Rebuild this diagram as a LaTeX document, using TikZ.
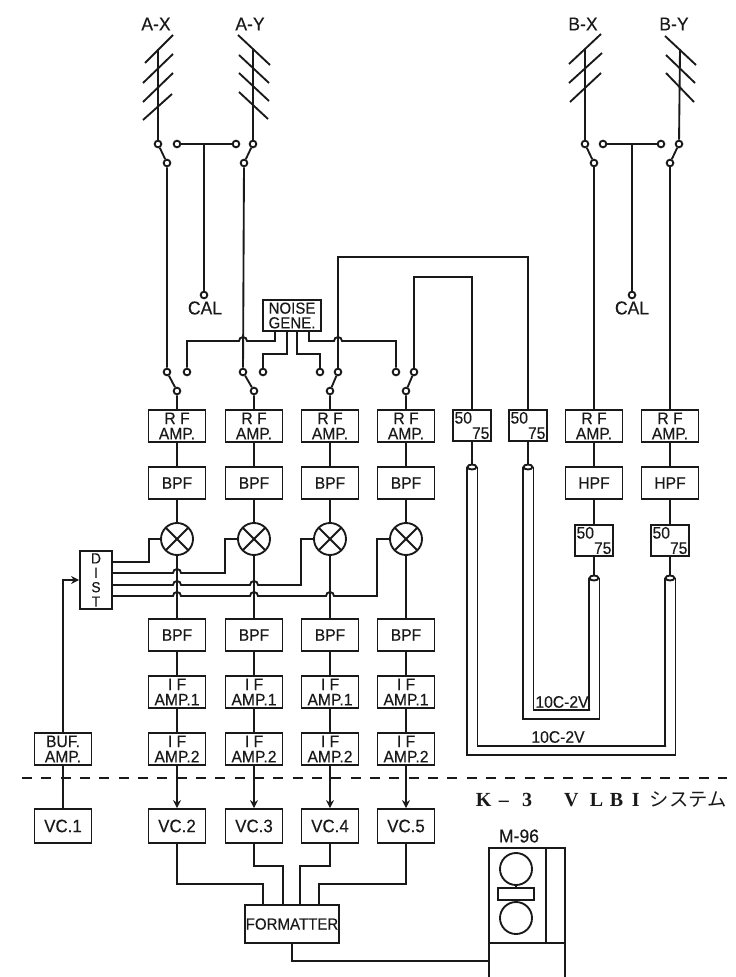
\documentclass[tikz,border=0pt]{standalone}
\usepackage{fontspec}
\setmainfont[FakeStretch=0.94,FakeBold=0.3]{Liberation Sans}
\newfontfamily\titlefont{Liberation Serif}
\newfontfamily\cjk{Noto Sans CJK JP}
\usetikzlibrary{shapes.geometric,arrows.meta}
\colorlet{ink}{black!90}
\tikzset{
  block/.style={draw=ink,rectangle,inner sep=0pt,minimum width=42.75pt,minimum height=24pt,align=center,text=ink,font=\fontsize{12.5}{11.5}\selectfont},
  tall/.style={block,minimum height=25.5pt,font=\fontsize{13.5}{13.5}\selectfont},
  match/.style={block,minimum width=28.5pt,minimum height=23pt,align=left},
  term/.style={draw=ink,fill=white,circle,inner sep=0pt,minimum size=5pt},
  mixer/.style={draw=ink,circle,inner sep=0pt,minimum size=24pt,path picture={
    \draw (path picture bounding box.north west) -- (path picture bounding box.south east);
    \draw (path picture bounding box.north east) -- (path picture bounding box.south west);}},
  coax/.style={draw=ink,fill=white,ellipse,inner sep=0pt,minimum width=6.75pt,minimum height=3.75pt},
  lab/.style={inner sep=0pt,text=ink,font=\fontsize{14}{14}\selectfont}
}
\begin{document}
\begin{tikzpicture}[x=0.75pt,y=-0.75pt,line width=1.4pt,draw=ink,>={Stealth[length=6pt,width=6pt]}]
\useasboundingbox (0,0) rectangle (735,977);
%antenna labels
\node[lab] (labax) at (156,24) {A-X};
\node[lab] (labay) at (250,24) {A-Y};
\node[lab] (labbx) at (583,24) {B-X};
\node[lab] (labby) at (674,24) {B-Y};
%antenna elements
\draw (145,63) -- (173,35);
\draw (143,83) -- (173,54);
\draw (143,102) -- (173,73);
\draw (143,120) -- (172,94);
\draw (238,35) -- (270,65);
\draw (239,55) -- (269,83);
\draw (239,73) -- (269,101);
\draw (239,92) -- (268,119);
\draw (569,64) -- (601,34);
\draw (569,83) -- (602,53);
\draw (570,102) -- (601,73);
\draw (665,36) -- (696,65);
\draw (666,55) -- (695,83);
\draw (666,73) -- (694,102);
\coordinate (topax) at (158,49);
\coordinate (topay) at (253,49);
\coordinate (topbx) at (585,49);
\coordinate (topby) at (680,49);
%upper switches
\node[term] (swax) at (158,144) {};
\node[term] (sway) at (253,144) {};
\node[term] (swbx) at (585,144) {};
\node[term] (swby) at (679,144) {};
\node[term] (outax) at (167,163) {};
\node[term] (outay) at (244,163) {};
\node[term] (outbx) at (594,163) {};
\node[term] (outby) at (670,163) {};
\node[term] (calal) at (177,144) {};
\node[term] (calar) at (236,144) {};
\node[term] (calbl) at (603,144) {};
\node[term] (calbr) at (661,144) {};
\coordinate (calam) at (204,144);
\coordinate (calbm) at (632,144);
\node[term] (calae) at (204,295) {};
\node[term] (calbe) at (632,295) {};
\node[lab] (labcala) at (205,308) {CAL};
\node[lab] (labcalb) at (632,308) {CAL};
\draw (topax) -- (swax);
\draw (topay) -- (sway);
\draw (topbx) -- (swbx);
\draw (topby) -- (swby);
\draw (swax) -- (outax);
\draw (sway) -- (outay);
\draw (swbx) -- (outbx);
\draw (swby) -- (outby);
\draw (calal) -- (calar);
\draw (calbl) -- (calbr);
\draw (calam) -- (calae);
\draw (calbm) -- (calbe);
%lower switches
\node[term] (inla) at (167,372) {};
\node[term] (inlb) at (243,372) {};
\node[term] (inlc) at (338,372) {};
\node[term] (inld) at (414,372) {};
\node[term] (nsa) at (187,372) {};
\node[term] (nsb) at (263,372) {};
\node[term] (nsc) at (320,372) {};
\node[term] (nsd) at (396,372) {};
\node[term] (rfia) at (177,391) {};
\node[term] (rfib) at (254,391) {};
\node[term] (rfic) at (330,391) {};
\node[term] (rfid) at (406,391) {};
%noise source
\node[block,minimum width=43.5pt,minimum height=23pt,font=\fontsize{12}{11}\selectfont] (noise) at (292,315.5) {NOISE\\GENE.};
\coordinate (na) at (275,331);
\coordinate (nb) at (287,331);
\coordinate (nc) at (297,331);
\coordinate (nd) at (309,331);
\draw (na) -- (275,341) -- (247,341) arc [start angle=0, end angle=-180, radius=4] -- (187,341) -- (nsa);
\draw (nb) |- (263,354) -- (nsb);
\draw (nc) |- (320,354) -- (nsc);
\draw (nd) -- (309,341) -- (334,341) arc [start angle=180, end angle=360, radius=4] -- (396,341) -- (nsd);
%rf row
\node[block] (rfa) at (177,426) {R F\\AMP.};
\node[block] (rfb) at (254,426) {R F\\AMP.};
\node[block] (rfc) at (330,426) {R F\\AMP.};
\node[block] (rfd) at (406,426) {R F\\AMP.};
\node[block] (rfe) at (594,426) {R F\\AMP.};
\node[block] (rff) at (670,426) {R F\\AMP.};
\node[match] (ma) at (472,425.5) {50\\\hphantom{50}75};
\node[match] (mb) at (528,425.5) {50\\\hphantom{50}75};
\draw (outax) -- (inla) -- (rfia) -- (rfa);
\draw (outay) -- (inlb) -- (rfib) -- (rfb);
\draw (inlc) -- (rfic) -- (rfc);
\draw (inld) -- (rfid) -- (rfd);
\draw (outbx) -- (rfe);
\draw (outby) -- (rff);
\coordinate (coaxc) at (338,257);
\coordinate (coaxd) at (414,277);
\draw (inlc) -- (coaxc) -| (mb);
\draw (inld) -- (coaxd) -| (ma);
%filters
\node[block] (bpfa) at (177,483) {BPF};
\node[block] (bpfb) at (254,483) {BPF};
\node[block] (bpfc) at (330,483) {BPF};
\node[block] (bpfd) at (406,483) {BPF};
\node[block] (hpfe) at (594,483) {HPF};
\node[block] (hpff) at (670,483) {HPF};
\node[match] (mc) at (594,540.5) {50\\\hphantom{50}75};
\node[match] (md) at (670,540.5) {50\\\hphantom{50}75};
\draw (rfa) -- (bpfa);
\draw (rfb) -- (bpfb);
\draw (rfc) -- (bpfc);
\draw (rfd) -- (bpfd);
\draw (rfe) -- (hpfe);
\draw (rff) -- (hpff);
\draw (hpfe) -- (mc);
\draw (hpff) -- (md);
%coax loops
\node[coax] (cxa) at (472,467) {};
\node[coax] (cxb) at (528,467) {};
\node[coax] (cxc) at (594,578) {};
\node[coax] (cxd) at (670,578) {};
\draw (ma) -- (cxa);
\draw (mb) -- (cxb);
\draw (mc) -- (cxc);
\draw (md) -- (cxd);
\coordinate (loopo) at (673,755);
\coordinate (loopi) at (666,746);
\coordinate (loopn) at (598,719);
\coordinate (loopm) at (590,710);
\draw (cxa.west) |- (loopo) -| (cxd.east);
\draw (cxa.east) |- (loopi) -| (cxd.west);
\draw (cxb.west) |- (loopn) -| (cxc.east);
\draw (cxb.east) |- (loopm) -| (cxc.west);
\node[lab,font=\fontsize{12.5}{12.5}\selectfont] (cablea) at (562,702) {10C-2V};
\node[lab,font=\fontsize{12.5}{12.5}\selectfont] (cableb) at (558,737) {10C-2V};
%mixers
\node[mixer] (mixa) at (177,539) {};
\node[mixer] (mixb) at (254,539) {};
\node[mixer] (mixc) at (330,539) {};
\node[mixer] (mixd) at (406,539) {};
\node[block,minimum width=24pt,minimum height=43.5pt,font=\fontsize{11}{10.8}\selectfont] (dist) at (96,580) {D\\I\\S\\T};
\coordinate (da) at (112,562);
\coordinate (db) at (112,573);
\coordinate (dc) at (112,585);
\coordinate (dd) at (112,596);
\draw (bpfa) -- (mixa);
\draw (bpfb) -- (mixb);
\draw (bpfc) -- (mixc);
\draw (bpfd) -- (mixd);
\draw (da) -- (149,562) |- (mixa.west);
\draw (db) -- (173,573) arc [start angle=180, end angle=360, radius=4] -- (225,573) |- (mixb.west);
\draw (dc) -- (173,585) arc [start angle=180, end angle=360, radius=4] -- (250,585) arc [start angle=180, end angle=360, radius=4] -- (301,585) |- (mixc.west);
\draw (dd) -- (173,596) arc [start angle=180, end angle=360, radius=4] -- (250,596) arc [start angle=180, end angle=360, radius=4] -- (326,596) arc [start angle=180, end angle=360, radius=4] -- (377,596) |- (mixd.west);
%if chain
\node[block] (bpga) at (177,635) {BPF};
\node[block] (bpgb) at (254,635) {BPF};
\node[block] (bpgc) at (330,635) {BPF};
\node[block] (bpgd) at (406,635) {BPF};
\node[block] (ifaa) at (177,692) {I F\\AMP.1};
\node[block] (ifab) at (254,692) {I F\\AMP.1};
\node[block] (ifac) at (330,692) {I F\\AMP.1};
\node[block] (ifad) at (406,692) {I F\\AMP.1};
\node[block] (ifba) at (177,749) {I F\\AMP.2};
\node[block] (ifbb) at (254,749) {I F\\AMP.2};
\node[block] (ifbc) at (330,749) {I F\\AMP.2};
\node[block] (ifbd) at (406,749) {I F\\AMP.2};
\node[block] (buf) at (63,749) {BUF.\\AMP.};
%dashed split
\coordinate (splitl) at (22,778);
\coordinate (splitr) at (727,778);
\draw[dash pattern=on 7.5pt off 7pt] (splitl) -- (splitr);
%video converters
\node[tall] (vca) at (63,826) {VC.1};
\node[tall] (vcb) at (177,826) {VC.2};
\node[tall] (vcc) at (254,826) {VC.3};
\node[tall] (vcd) at (330,826) {VC.4};
\node[tall] (vce) at (406,826) {VC.5};
\draw (mixa) -- (bpga);
\draw (mixb) -- (bpgb);
\draw (mixc) -- (bpgc);
\draw (mixd) -- (bpgd);
\draw (bpga) -- (ifaa);
\draw (bpgb) -- (ifab);
\draw (bpgc) -- (ifac);
\draw (bpgd) -- (ifad);
\draw (ifaa) -- (ifba);
\draw (ifab) -- (ifbb);
\draw (ifac) -- (ifbc);
\draw (ifad) -- (ifbd);
\draw[->] (ifba) -- (vcb);
\draw[->] (ifbb) -- (vcc);
\draw[->] (ifbc) -- (vcd);
\draw[->] (ifbd) -- (vce);
\draw (vca) -- (buf);
\draw[->] (buf) |- (dist.west);
%formatter
\node[block,minimum width=71pt,minimum height=28.5pt,font=\fontsize{12}{12}\selectfont] (fmt) at (292,924) {FORMATTER};
\coordinate (fa) at (263,884);
\coordinate (fb) at (283,866);
\coordinate (fc) at (300,866);
\coordinate (fd) at (319,884);
\draw (vcb) |- (fa) -- (fa |- fmt.north);
\draw (vcc) |- (fb) -- (fb |- fmt.north);
\draw (vcd) |- (fc) -- (fc |- fmt.north);
\draw (vce) |- (fd) -- (fd |- fmt.north);
%recorder
\node[lab] (labrec) at (519,836) {M-96};
\draw (489,977) |- (565,848) -- (565,977);
\draw (489,943) -- (565,943);
\draw (546,848) -- (546,943);
\node[draw=ink,circle,inner sep=0pt,minimum size=24pt] (reela) at (516,869) {};
\node[draw=ink,circle,inner sep=0pt,minimum size=24pt] (reelb) at (516,918) {};
\draw (reela) -- (reelb);
\node[draw=ink,fill=white,rectangle,inner sep=0pt,minimum width=27.5pt,minimum height=9pt] (head) at (516,894) {};
\coordinate (recin) at (489,961);
\draw (fmt) |- (recin);
%title
\node[lab,anchor=west,font=\fontsize{15}{15}\selectfont] (title) at (475,800) {{\titlefont\bfseries K\hspace{5.5pt}–\hspace{10pt}3\hspace{24pt}V\hspace{8.5pt}L\hspace{5pt}B\hspace{6.5pt}I\hspace{7.5pt}}{\cjk\fontsize{14.5}{14.5}\selectfont システム}};
\end{tikzpicture}
\end{document}
